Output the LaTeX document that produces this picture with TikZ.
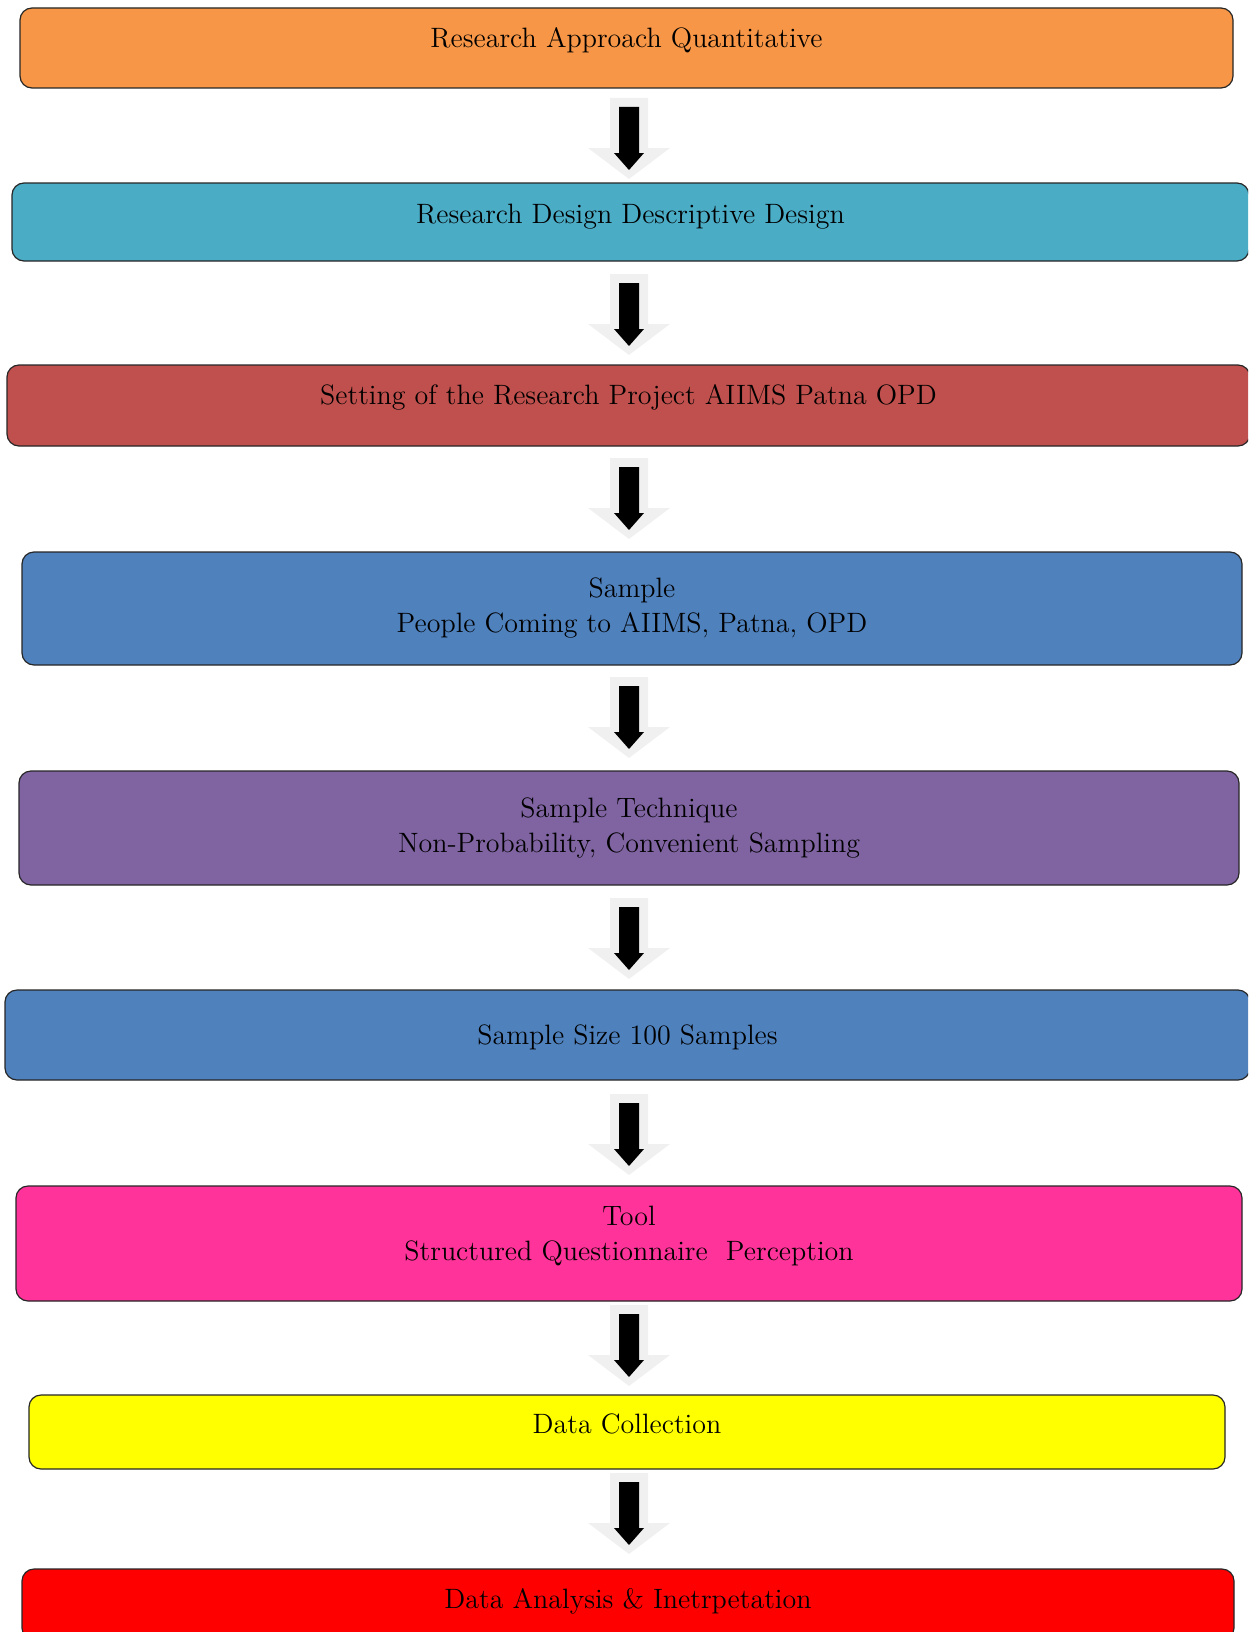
\documentclass[tikz,border=0pt]{standalone}
\usepackage{xcolor}
\usepackage{tikz}
\usetikzlibrary{arrows.meta,positioning,calc}
\definecolor{approach}{HTML}{F79646}
\definecolor{design}{HTML}{4BACC6}
\definecolor{setting}{HTML}{C0504D}
\definecolor{sample}{HTML}{4F81BD}
\definecolor{technique}{HTML}{8064A2}
\definecolor{tool}{HTML}{FF3399}
\definecolor{collect}{HTML}{FFFF00}
\definecolor{analysis}{HTML}{FF0000}
\definecolor{arrowgray}{HTML}{F0F0F0}
\definecolor{edge}{HTML}{262626}

\begin{document}
\begin{tikzpicture}[
  x=0.5pt, y=-0.5pt,
  font=\fontsize{14}{17.5}\selectfont,
  stage/.style={draw=edge,line width=0.6pt,rounded corners=6pt,align=center,inner sep=0pt},
  one/.style={text height=10pt,text depth=#1},
  downarrow/.pic={
    \fill[arrowgray] (-19,0) -- (19,0) -- (19,50) -- (41,50) -- (0,81) -- (-41,50) -- (-19,50) -- cycle;
    \fill[black] (-10,9) -- (10,9) -- (10,55) -- (15,55) -- (0,72) -- (-15,55) -- (-10,55) -- cycle;
  }]
\useasboundingbox (0,0) rectangle (1248,1632);
\clip (0,0) rectangle (1248,1632);
\node[stage,one=10pt,fill=approach,minimum width=606.5pt,minimum height=40pt] (appr) at (626.5,48) {Research Approach Quantitative};
\node[stage,one=9pt,fill=design,minimum width=618.5pt,minimum height=39pt] (desg) at (630.5,222) {Research Design Descriptive Design};
\node[stage,one=11pt,fill=setting,minimum width=621.5pt,minimum height=40.5pt] (sett) at (628.5,405.5) {Setting of the Research Project AIIMS Patna OPD};
\node[stage,fill=sample,minimum width=610pt,minimum height=56.5pt] (samp) at (632,608.5) {Sample\\People Coming to AIIMS, Patna, OPD};
\node[stage,fill=technique,minimum width=610pt,minimum height=57pt] (tech) at (629,828) {Sample Technique\\Non-Probability, Convenient Sampling};
\node[stage,one=1pt,fill=sample,minimum width=622.5pt,minimum height=45pt] (size) at (627.5,1035) {Sample Size 100 Samples};
\node[stage,text depth=10pt,fill=tool,minimum width=613pt,minimum height=57.5pt] (tool) at (629,1243.5) {Tool\\Structured Questionnaire\ \ Perception};
\node[stage,one=9pt,fill=collect,minimum width=598pt,minimum height=37pt] (coll) at (627,1432) {Data Collection};
\node[stage,one=6pt,fill=analysis,minimum width=606pt,minimum height=35.5pt] (anal) at (628,1604.5) {Data Analysis \& Inetrpetation};
% block arrows between the stages
\foreach \ytop in {98,274,458,677,898,1094,1305,1473}
  \pic at (629,\ytop) {downarrow};
\end{tikzpicture}
\end{document}
